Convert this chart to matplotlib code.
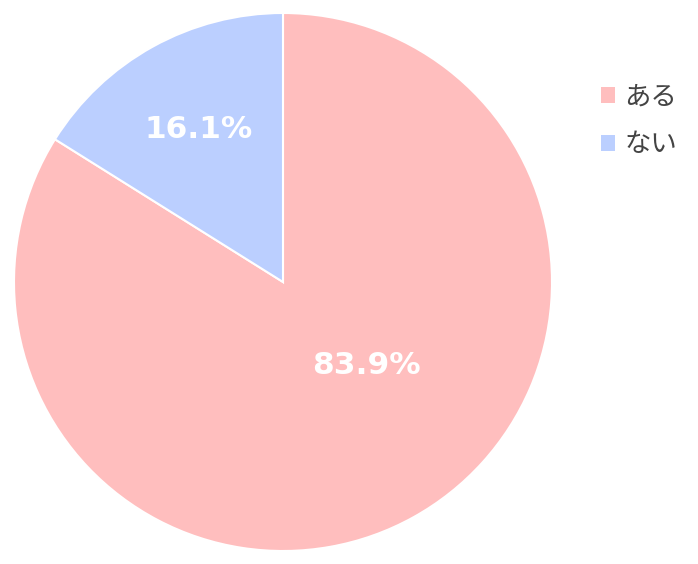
import matplotlib
matplotlib.use("Agg")
import matplotlib.pyplot as plt
from matplotlib.patches import Patch

plt.rcParams['font.family'] = ['Noto Sans CJK JP', 'DejaVu Sans']

labels = ["ある", "ない"]
values = [83.9, 16.1]
colors = ["#FFBEBE", "#BBCFFF"]

W, H = 698, 564
fig = plt.figure(figsize=(W/100, H/100), dpi=100)
cx, cy, r = 283, 282, 269
ax = fig.add_axes([(cx - r)/W, (H - cy - r)/H, 2*r/W, 2*r/H])
wedges, texts, autotexts = ax.pie(values, colors=colors, startangle=90, counterclock=False,
                                  autopct=lambda p: f"{p:.1f}%", pctdistance=0.65,
                                  wedgeprops=dict(edgecolor="white", linewidth=1.5),
                                  textprops=dict(color="white", fontsize=22.5, fontweight="bold",
                                                 family=['DejaVu Sans']))
autotexts[0].set_position((0.312, -0.312))
ax.set_xlim(-1, 1)
ax.set_ylim(-1, 1)
ax.set_aspect("equal")

handles = [Patch(facecolor=c, edgecolor="none") for c in colors]
leg = fig.legend(handles, labels, loc="upper left", bbox_to_anchor=(577/W, 1 - 60/H),
                 frameon=False, fontsize=19, handlelength=0.55, handleheight=0.55,
                 handletextpad=0.35, labelspacing=0.78, labelcolor="#444444")
fig.savefig("out.png", dpi=100)
